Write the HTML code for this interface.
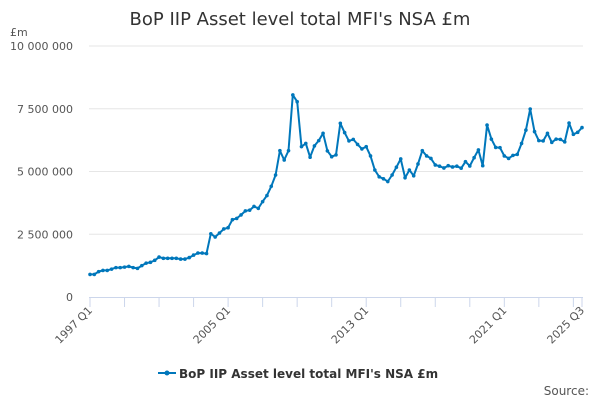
<!DOCTYPE html>
<html><head><meta charset="utf-8"><style>
body{margin:0;background:#fff;font-family:"DejaVu Sans",sans-serif}
svg text{font-family:"DejaVu Sans",sans-serif}
</style></head><body>
<svg id="chart" width="600" height="400">
<text x="300" y="25" text-anchor="middle" font-size="18" fill="#333">BoP IIP Asset level total MFI's NSA £m</text>
<text x="10" y="36" font-size="11" fill="#555">£m</text>
<g id="grid"></g><g id="xaxis"></g><g id="series"></g>
<g>
<line x1="158" y1="373" x2="176" y2="373" stroke="#0077bb" stroke-width="2"/>
<circle cx="167" cy="373" r="2.5" fill="#0077bb"/>
<text x="179" y="378" font-size="12" font-weight="bold" fill="#333">BoP IIP Asset level total MFI's NSA £m</text>
</g>
<text x="589" y="395" text-anchor="end" font-size="12" fill="#555">Source:</text>
</svg>
<script>
const yTicks=[0,2500000,5000000,7500000,10000000];
const yTickLabels=["0","2 500 000","5 000 000","7 500 000","10 000 000"];
const xLabelIdx=[0,32,64,96,114];
const xLabels=["1997 Q1","2005 Q1","2013 Q1","2021 Q1","2025 Q3"];
const valuesM=[0.90,0.90,1.01,1.06,1.06,1.11,1.17,1.17,1.19,1.22,1.17,1.14,1.25,1.35,1.38,1.46,1.59,1.54,1.54,1.54,1.54,1.51,1.51,1.57,1.67,1.75,1.75,1.73,2.52,2.39,2.55,2.71,2.76,3.08,3.13,3.27,3.43,3.46,3.61,3.53,3.80,4.04,4.41,4.86,
5.83,5.46,5.83,8.05,7.78,5.99,6.12,5.57,6.02,6.23,6.52,5.82,5.59,5.66,6.92,6.55,6.22,6.28,6.08,5.90,5.99,5.62,5.06,4.79,4.71,4.60,4.86,5.17,5.50,4.75,5.06,4.83,5.30,5.83,5.62,
5.52,5.26,5.21,5.14,5.23,5.18,5.21,5.13,5.39,5.22,5.55,5.86,5.23,6.85,6.29,5.96,5.95,5.62,5.52,5.64,5.68,6.12,6.65,7.49,6.59,6.23,6.22,6.52,6.16,6.29,6.28,6.18,6.93,6.48,6.56,6.75];
const NS="http://www.w3.org/2000/svg";
const X0=90,X1=582,Y0=297,Y1=46;
const n=valuesM.length;
const xs=i=>X0+(X1-X0)*i/(n-1);
const ys=v=>Y0-(Y0-Y1)*v/10000000;
function mk(t,a,p){const e=document.createElementNS(NS,t);for(const k in a)e.setAttribute(k,a[k]);p.appendChild(e);return e;}
const grid=document.getElementById('grid');
yTicks.forEach((v,i)=>{
 if(i>0){const l=mk('line',{x1:89,x2:X1+1,y1:ys(v),y2:ys(v),stroke:'#e6e6e6','stroke-width':1},grid);
 
 }
 const t=mk('text',{x:73,y:ys(v)+4,'text-anchor':'end','font-size':11,fill:'#555'},grid);
 t.textContent=yTickLabels[i];
 
 
});
const xa=document.getElementById('xaxis');
const ax=mk('line',{x1:89,x2:X1+1,y1:Y0+0.5,y2:Y0+0.5,stroke:'#ccd6eb','stroke-width':1},xa);


for(let i=0;i<n;i+=8){const tk=mk('line',{x1:xs(i),x2:xs(i),y1:Y0,y2:Y0+10,stroke:'#ccd6eb'},xa);
 
 }
mk('line',{x1:xs(n-1),x2:xs(n-1),y1:Y0,y2:Y0+10,stroke:'#ccd6eb'},xa);
xLabelIdx.forEach((idx,i)=>{
 const x=xs(idx)+3,y=Y0+14;
 const t=mk('text',{x:x,y:y,'text-anchor':'end','font-size':11,fill:'#555',transform:`rotate(-45 ${x} ${y})`},xa);
 t.textContent=xLabels[i];
 
 
});
const s=document.getElementById('series');
const pts=valuesM.map((v,i)=>xs(i).toFixed(1)+','+ys(v*1e6).toFixed(1)).join(' ');
const pl=mk('polyline',{points:pts,fill:'none',stroke:'#0077bb','stroke-width':2,'stroke-linejoin':'round'},s);


valuesM.forEach((v,i)=>{const c=mk('circle',{cx:xs(i),cy:ys(v*1e6),r:1.8,fill:'#0077bb'},s);
 
 });
</script>
</body></html>
